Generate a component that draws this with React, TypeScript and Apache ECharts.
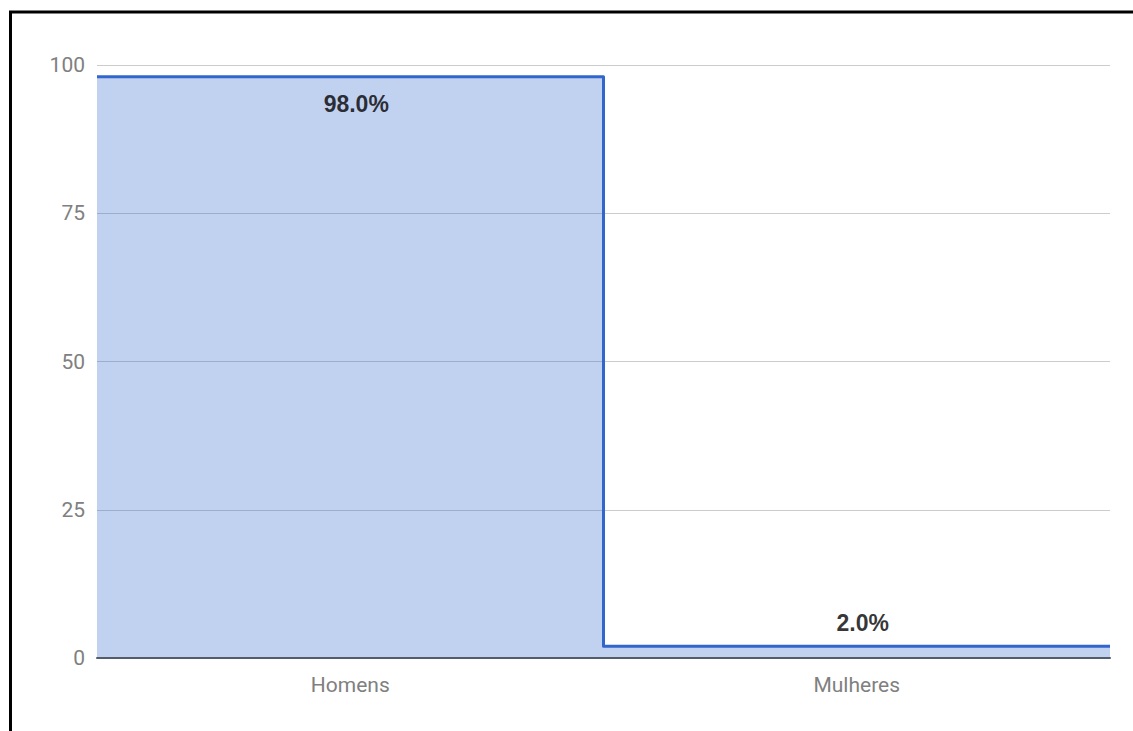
import React, { useEffect, useRef } from "react";
import * as echarts from "echarts";

const categories = ["Homens", "Mulheres"];
const values = [98, 2];
const valueLabels = ["98.0%", "2.0%"];
const yTicks = { min: 0, max: 100, interval: 25 };

export default function App() {
  const ref = useRef<HTMLDivElement>(null);
  useEffect(() => {
    if (!ref.current) return;
    const chart = echarts.init(ref.current, null, { renderer: "svg" });
    const stepData: number[][] = values.map((v, i) => [i, v]);
    stepData.push([values.length, values[values.length - 1]]);
    const grid = { left: 97, right: 23, top: 65, bottom: 73 };
    chart.setOption({
      animation: false,
      backgroundColor: "#ffffff",
      grid,
      xAxis: [
        {
          type: "category",
          data: categories,
          boundaryGap: true,
          axisLine: { show: true, lineStyle: { color: "#545b6b", width: 2 } },
          axisTick: { show: false },
          axisLabel: { color: "#808080", fontFamily: "Roboto", fontSize: 21, margin: 16 },
          splitLine: { show: false },
          z: 5,
        },
        {
          type: "value",
          min: 0,
          max: values.length,
          show: false,
        },
      ],
      yAxis: {
        type: "value",
        min: yTicks.min,
        max: yTicks.max,
        interval: yTicks.interval,
        axisLine: { show: false },
        axisTick: { show: false },
        axisLabel: { color: "#808080", fontFamily: "Roboto", fontSize: 21, margin: 12 },
        splitLine: { lineStyle: { color: "#cccccc", width: 1 } },
      },
      series: [
        {
          type: "line",
          xAxisIndex: 1,
          data: stepData,
          step: "end",
          symbol: "none",
          lineStyle: { color: "#3366cc", width: 3, join: "round" },
          areaStyle: { color: "#3366cc", opacity: 0.3, origin: 0 },
          z: 2,
        },
        {
          type: "scatter",
          xAxisIndex: 0,
          symbolSize: 0,
          data: values.map((v, i) => ({
            value: v,
            label: {
              show: true,
              formatter: valueLabels[i],
              position: v > 50 ? "bottom" : "top",
              distance: v > 50 ? 16 : 12,
              offset: [6, 0],
              color: "#000000",
              fontFamily: "'Liberation Sans', Arial, sans-serif",
              fontWeight: "bold",
              fontSize: 23,
            },
          })),
          z: 10,
        },
      ],
      graphic: [
        {
          type: "rect",
          shape: { x: 10.5, y: 12, width: 1300, height: 900 },
          style: { fill: "none", stroke: "#000000", lineWidth: 3 },
          z: 100,
        },
      ],
    });
    return () => chart.dispose();
  }, []);
  return (
    <div
      ref={ref}
      style={{ position: "fixed", left: 0, top: 0, width: 1133, height: 731 }}
    />
  );
}
